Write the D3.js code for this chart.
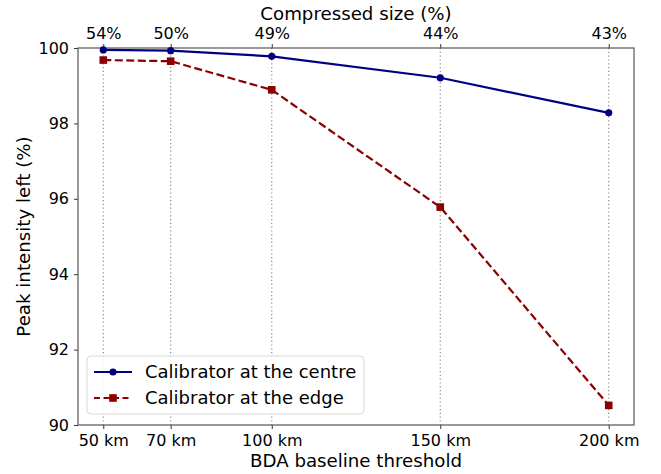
<!DOCTYPE html>
<html>
<head>
<meta charset="utf-8">
<script src="https://cdn.jsdelivr.net/npm/d3@7"></script>
<style>
  html, body { margin: 0; padding: 0; background: #fff; }
  svg { display: block; font-family: "DejaVu Sans", sans-serif; }
</style>
</head>
<body>
<svg id="chart" width="661" height="474"></svg>
<script>
// BDA baseline thresholds (km) and the compressed data size at each
const thresholds = [50, 70, 100, 150, 200];
const thresholdLabels = ["50 km", "70 km", "100 km", "150 km", "200 km"];
const compressedSize = ["54%", "50%", "49%", "44%", "43%"];

// Peak intensity left (%) for the two calibrator positions
const centreValues = [99.95, 99.93, 99.78, 99.21, 98.28];
const edgeValues = [99.68, 99.65, 98.89, 95.78, 90.52];

const yTicks = [90, 92, 94, 96, 98, 100];

const svg = d3.select("#chart");
const m = { left: 78, right: 634, top: 48, bottom: 425 };

const x = d3.scaleLinear().domain([42.5, 207.5]).range([m.left, m.right]);
const y = d3.scaleLinear().domain([90, 100]).range([m.bottom, m.top]);

// Vertical dotted guides at each threshold
svg.append("g").selectAll("line").data(thresholds).join("line")
  .attr("x1", d => x(d)).attr("x2", d => x(d))
  .attr("y1", m.top).attr("y2", m.bottom)
  .attr("stroke", "#808080").attr("stroke-width", 1.1)
  .attr("stroke-dasharray", "1.2,2.6");

// Bottom axis
const xAxis = d3.axisBottom(x).tickValues(thresholds)
  .tickFormat((d, i) => thresholdLabels[i]).tickSize(4).tickPadding(6);
const gx = svg.append("g").attr("transform", `translate(0,${m.bottom})`).call(xAxis);

// Top axis: compressed size
const xTop = d3.axisTop(x).tickValues(thresholds)
  .tickFormat((d, i) => compressedSize[i]).tickSize(4).tickPadding(5);
const gt = svg.append("g").attr("transform", `translate(0,${m.top})`).call(xTop);

// Left axis
const yAxis = d3.axisLeft(y).tickValues(yTicks).tickSize(4).tickPadding(5);
const gy = svg.append("g").attr("transform", `translate(${m.left},0)`).call(yAxis);

[gx, gt, gy].forEach(g => {
  g.select(".domain").remove();
  g.selectAll(".tick line").attr("stroke", "#333").attr("stroke-width", 1);
  g.selectAll(".tick text").attr("fill", "#000")
    .style("font-family", "DejaVu Sans").style("font-size", "16px");
});

// Frame
svg.append("rect")
  .attr("x", m.left).attr("y", m.top)
  .attr("width", m.right - m.left).attr("height", m.bottom - m.top)
  .attr("fill", "none").attr("stroke", "#555").attr("stroke-width", 1.2);

// Series
const line = d3.line().x((d, i) => x(thresholds[i])).y(d => y(d));

svg.append("path").datum(centreValues)
  .attr("d", line).attr("fill", "none")
  .attr("stroke", "#000080").attr("stroke-width", 2.2);
svg.append("g").selectAll("circle").data(centreValues).join("circle")
  .attr("cx", (d, i) => x(thresholds[i])).attr("cy", d => y(d))
  .attr("r", 3.6).attr("fill", "#000080");

svg.append("path").datum(edgeValues)
  .attr("d", line).attr("fill", "none")
  .attr("stroke", "#8b0000").attr("stroke-width", 2.2)
  .attr("stroke-dasharray", "8,3.5");
svg.append("g").selectAll("rect").data(edgeValues).join("rect")
  .attr("x", (d, i) => x(thresholds[i]) - 3.8).attr("y", d => y(d) - 3.8)
  .attr("width", 7.6).attr("height", 7.6).attr("fill", "#8b0000");

// Axis titles
svg.append("text").attr("x", (m.left + m.right) / 2).attr("y", 467)
  .attr("text-anchor", "middle").style("font-size", "18.2px")
  .text("BDA baseline threshold");
svg.append("text").attr("x", (m.left + m.right) / 2).attr("y", 20)
  .attr("text-anchor", "middle").style("font-size", "18.2px")
  .text("Compressed size (%)");
svg.append("text")
  .attr("transform", `translate(30,${(m.top + m.bottom) / 2}) rotate(-90)`)
  .attr("text-anchor", "middle").style("font-size", "18.2px")
  .text("Peak intensity left (%)");

// Legend
const lg = svg.append("g").attr("transform", "translate(87,356)");
lg.append("rect").attr("width", 277).attr("height", 58).attr("rx", 4)
  .attr("fill", "#fff").attr("fill-opacity", 0.85)
  .attr("stroke", "#d8d8d8").attr("stroke-width", 1);
const items = [
  { label: "Calibrator at the centre", color: "#000080", dash: null, shape: "circle" },
  { label: "Calibrator at the edge", color: "#8b0000", dash: "8,3.5", shape: "square" }
];
items.forEach((it, i) => {
  const cy = 16 + i * 26;
  lg.append("line").attr("x1", 7).attr("x2", 45).attr("y1", cy).attr("y2", cy)
    .attr("stroke", it.color).attr("stroke-width", 2.2)
    .attr("stroke-dasharray", it.dash ? "6,3.5" : null);
  if (it.shape === "circle") {
    lg.append("circle").attr("cx", 26).attr("cy", cy).attr("r", 3.6).attr("fill", it.color);
  } else {
    lg.append("rect").attr("x", 22.2).attr("y", cy - 3.8).attr("width", 7.6).attr("height", 7.6)
      .attr("fill", it.color);
  }
  lg.append("text").attr("x", 58).attr("y", cy + 6).style("font-size", "18px")
    .text(it.label);
});
</script>
</body>
</html>
